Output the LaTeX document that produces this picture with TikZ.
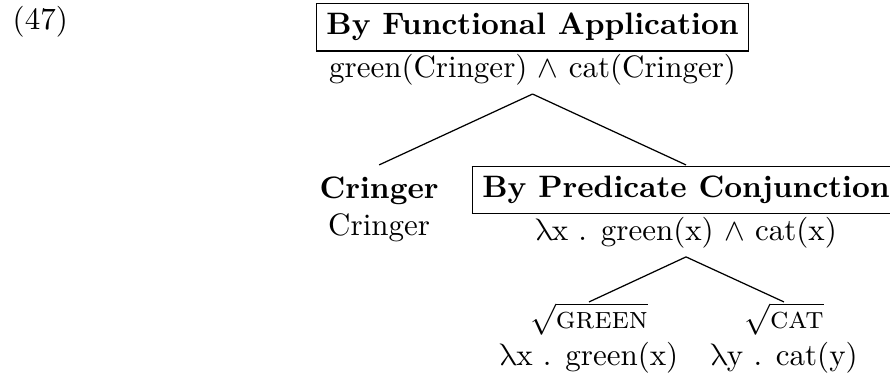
\documentclass[tikz,border=0pt]{standalone}
\usepackage{amsmath}
\usepackage{amssymb}
\usepackage{fontspec}
\newfontfamily\uplamfont{latinmodern-math.otf}
\newcommand{\lam}{{\uplamfont λ}}
\usepackage{tikz}

\begin{document}
\begin{tikzpicture}[
  tnode/.style={align=center, inner sep=0pt, anchor=north},
  branch/.style={line width=0.4pt}]
\useasboundingbox (0,0) rectangle (287.1pt,-121.6pt);
% The example number
\node[anchor=base west, inner sep=0pt] (num) at (3.9pt,-9.5pt) {(47)};
% The mother node
\node[tnode] (fa) at (171.8pt,-0.65pt)
  {\fbox{\textbf{By Functional Application}}\\
   green(Cringer) $\wedge$ cat(Cringer)};
% The daughters
\node[tnode] (cr) at (122.3pt,-56.7pt)
  {\textbf{Cringer}\\ Cringer};
\node[tnode] (pc) at (221.3pt,-53.2pt)
  {\fbox{\textbf{By Predicate Conjunction}}\\
   \lam x . green(x) $\wedge$ cat(x)};
% The roots
\node[tnode] (gr) at (190.0pt,-97.4pt)
  {$\sqrt{\textsc{green}}$\\ \lam x . green(x)};
\node[tnode] (ct) at (252.9pt,-97.4pt)
  {$\sqrt{\textsc{cat}}$\\ \lam y . cat(y)};
% The branches
\draw[branch] ([yshift=-2.5pt]fa.south) -- (cr.north |- pc.north);
\draw[branch] ([yshift=-2.5pt]fa.south) -- (pc.north);
\draw[branch] ([yshift=-2.5pt]pc.south) -- (gr.north);
\draw[branch] ([yshift=-2.5pt]pc.south) -- (ct.north);
\end{tikzpicture}
\end{document}
